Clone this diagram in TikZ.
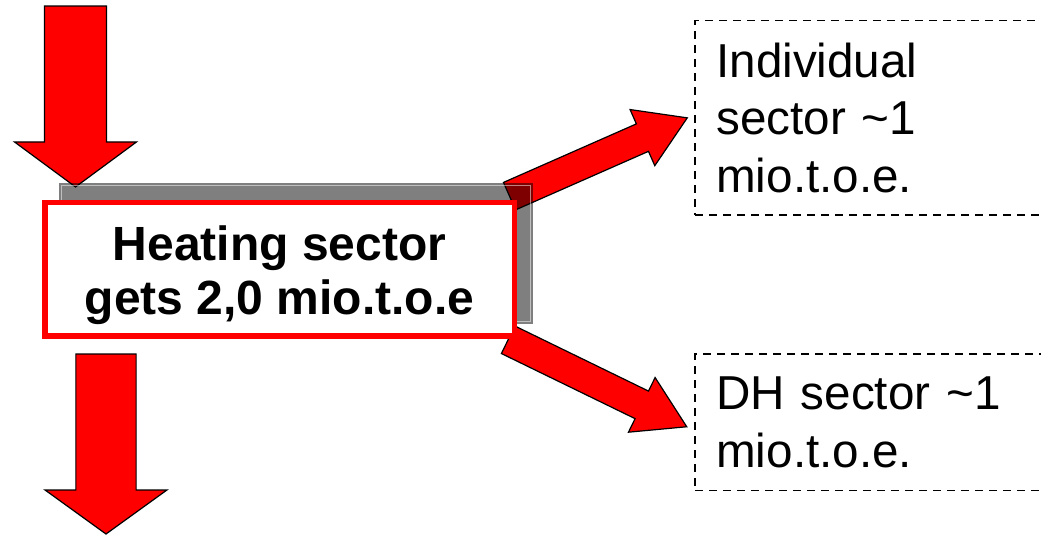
\documentclass[tikz,border=0pt]{standalone}
\usepackage{fontspec}
\setmainfont{Liberation Sans}
\usetikzlibrary{calc,positioning}
\pgfdeclarelayer{back}
\pgfsetlayers{back,main}
\tikzset{
  heatbox/.style={draw=red,line width=4pt,fill=white,minimum width=352pt,minimum height=100pt,inner sep=0pt,outer sep=0pt},
  heatlabel/.style={font=\fontsize{36}{40.5}\selectfont\bfseries,align=center},
  sharebox/.style={draw=black,line width=1.1pt,dash pattern=on 6pt off 4.5pt,anchor=west,text width=243pt,inner xsep=16pt,inner ysep=0pt,outer sep=0pt,align=left,font=\fontsize{35.7}{43}\selectfont},
  fatarrow/.style={draw=black,line width=0.9pt,fill=red,line join=miter},
  boxshadow/.style={fill=black,opacity=0.5},
  shadowrim/.style={draw=white,opacity=0.5,line width=0.8pt}
}
% block arrow: tail, tip, half shaft, half head, head length
\newcommand{\flowarrow}[5]{%
  \coordinate (#1-neck) at ($(#2)!#5!(#1)$);
  \draw[fatarrow] ($(#1)!#3!90:(#2)$) -- ($(#1-neck)!#3!90:(#2)$)
    -- ($(#1-neck)!#4!90:(#2)$) -- (#2) -- ($(#1-neck)!#4!-90:(#2)$)
    -- ($(#1-neck)!#3!-90:(#2)$) -- ($(#1)!#3!-90:(#2)$) -- cycle;
}

\begin{document}
\begin{tikzpicture}[x=0.75pt,y=-0.75pt]
  \useasboundingbox (0,0) rectangle (1041,536);
  \clip (0,0) rectangle (1041,536);

  \node[heatbox] (heat) at (279.65,269.35) {};
  \node[heatlabel] (heattext) at ([yshift=-4.2pt]heat.center) {Heating sector\\gets 2,0 mio.t.o.e};
  \node[sharebox,minimum height=145.7pt] (indiv) at (695,117.85) {Individual\\sector \textasciitilde1\\mio.t.o.e.};
  \node[sharebox,minimum height=102.5pt] (dh) at (695,422.35) {DH sector \textasciitilde1\\mio.t.o.e.};

  \coordinate (supply) at (75.5,6);
  \coordinate (heat-in) at ([xshift=22.9pt,yshift=11.8pt]heat.north west);
  \coordinate (heat-out) at ([xshift=45.75pt,yshift=-13.5pt]heat.south west);
  \coordinate (demand) at (106,534);
  \coordinate (indiv-out) at ([xshift=-3.6pt,yshift=4.9pt]heat.north east);
  \coordinate (indiv-in) at ([xshift=-5.8pt]indiv.west);
  \coordinate (dh-out) at ([xshift=-4.65pt,yshift=-2.8pt]heat.south east);
  \coordinate (dh-in) at ([xshift=-6.2pt,yshift=-3.3pt]dh.west);

  \begin{pgfonlayer}{back}
    \flowarrow{supply}{heat-in}{23.2pt}{45.75pt}{33.75pt}
    \flowarrow{heat-out}{demand}{22.6pt}{45.7pt}{33pt}
    \flowarrow{indiv-out}{indiv-in}{11.25pt}{23pt}{36.75pt}
    \flowarrow{dh-out}{dh-in}{11.5pt}{22.8pt}{37.5pt}
    % shadow behind the heating box
    \fill[boxshadow] (59,183.3) rectangle (533,324);
    \draw[shadowrim] (61.5,185.8) rectangle (530.5,321.5);
  \end{pgfonlayer}
\end{tikzpicture}
\end{document}
